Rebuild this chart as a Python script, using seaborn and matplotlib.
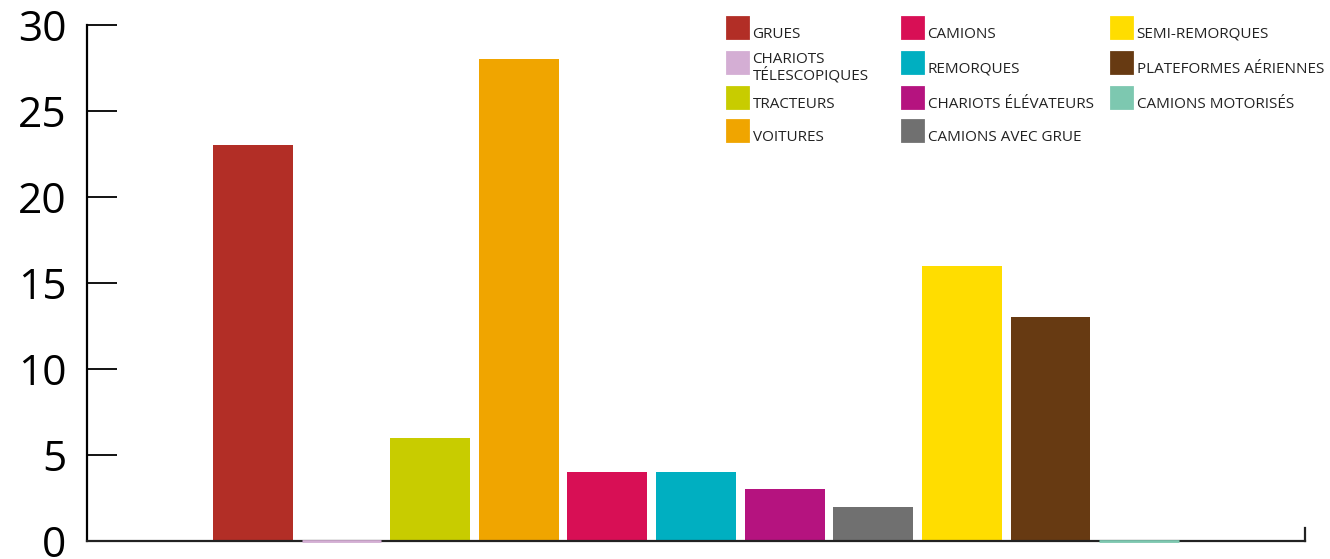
import matplotlib
matplotlib.use("Agg")
import matplotlib.pyplot as plt
import seaborn as sns
import pandas as pd
from matplotlib.legend_handler import HandlerPatch
from matplotlib.patches import Rectangle

categories = ["GRUES", "CHARIOTS\nTÉLESCOPIQUES", "TRACTEURS", "VOITURES", "CAMIONS",
              "REMORQUES", "CHARIOTS ÉLÉVATEURS", "CAMIONS AVEC GRUE", "SEMI-REMORQUES",
              "PLATEFORMES AÉRIENNES", "CAMIONS MOTORISÉS"]
values = [23, 0, 6, 28, 4, 4, 3, 2, 16, 13, 0]
colors = ["#B22E26", "#D4AED4", "#C8CC00", "#F0A500", "#D80F55", "#00AFC1",
          "#B5137F", "#707070", "#FFDD00", "#673A12", "#7DC8B0"]
yticks = [0, 5, 10, 15, 20, 25, 30]

sns.set_theme(style="white")
plt.rcParams["font.family"] = ["Open Sans", "DejaVu Sans"]

df = pd.DataFrame({"cat": categories, "val": values})
W, H = 1330, 559
fig = plt.figure(figsize=(W / 100, H / 100), dpi=100)
ax = fig.add_axes([87 / W, 1 - 541 / H, (1305 - 87) / W, (541 - 25) / H])

sns.barplot(data=df, x="cat", y="val", hue="cat", order=categories, hue_order=categories,
            palette=dict(zip(categories, colors)), width=0.9, saturation=1,
            legend=True, ax=ax, linewidth=0)

handles, labels = ax.get_legend_handles_labels()
if ax.get_legend() is not None:
    ax.get_legend().remove()

for p in ax.patches:
    if abs(p.get_height()) < 1e-9:
        p.set_edgecolor(p.get_facecolor())
        p.set_linewidth(2.0)
        p.set_zorder(4)
        p.set_clip_on(False)

ax.set_xlim(-1.87, 11.87)
ax.set_ylim(0, 30)
ax.set_yticks(yticks)
ax.set_yticklabels([str(t) for t in yticks])
ax.set_xticks([])
ax.set_xlabel("")
ax.set_ylabel("")
ax.tick_params(axis="y", direction="in", length=21.5, width=1.3, color="black",
               labelsize=30.5, pad=15, labelcolor="black", left=True)

ax.spines["top"].set_visible(False)
ax.spines["left"].set_color("black")
ax.spines["left"].set_linewidth(1.6)
ax.spines["bottom"].set_color("#222222")
ax.spines["bottom"].set_linewidth(1.6)
ax.spines["right"].set_color("#222222")
ax.spines["right"].set_linewidth(1.6)
ax.spines["right"].set_bounds(0, 0.75)
ax.set_facecolor("white")

# legend: square swatches (21 px) whose bottom sits on the text baseline
FS = 11
SW = 21 * 0.72  # swatch side in points


def square(legend, orig_handle, xdescent, ydescent, width, height, fontsize):
    return Rectangle((-xdescent, 0), SW, SW)


col_x = [727, 902, 1111]
row_bottom = [38, 73, 108, 141]
for i, (h, l) in enumerate(zip(handles, labels)):
    c = i // 4
    r = i % 4
    off = 10.0 if "\n" in l else 3.8
    lg = fig.legend(handles=[h], labels=[l], loc="lower left",
                    bbox_to_anchor=(col_x[c] / W, 1 - (row_bottom[r] + off) / H),
                    frameon=False, fontsize=FS, borderpad=0, borderaxespad=0,
                    handlelength=SW / FS, handleheight=0.7, handletextpad=0.3,
                    handler_map={h: HandlerPatch(patch_func=square)})
    for t in lg.get_texts():
        t.set_linespacing(0.97)
        t.set_color("#222222")

fig.savefig("out.png", dpi=100, facecolor="white")
